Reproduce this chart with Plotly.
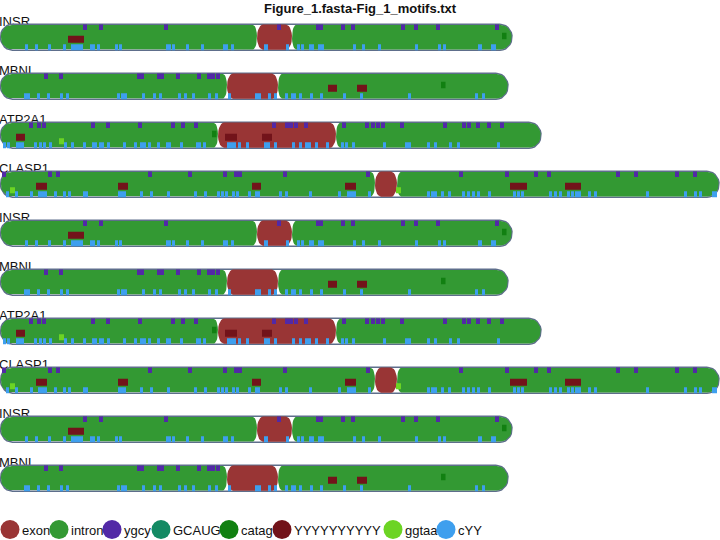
import plotly.graph_objects as go
import numpy as np

# ---------------- data (positions along each sequence) ----------------
TITLE = "Figure_1.fasta-Fig_1_motifs.txt"
ROW_GENES = ["INSR", "MBNL", "ATP2A1", "CLASP1", "INSR", "MBNL",
             "ATP2A1", "CLASP1", "INSR", "MBNL"]

MOTIF_NAMES = ["exon", "intron", "ygcy", "GCAUG", "catag", "YYYYYYYYYY", "ggtaa", "cYY"]
MOTIF_COLORS = ["#993535", "#339933", "#5229a6", "#138a63", "#118011",
                "#72131a", "#6cd424", "#3e9fee"]

INSR_LENGTH = 512
INSR_EXONS = [(257, 292)]
INSR_YGCY = [83, 99, 164, 277, 316, 319, 341, 351, 401, 414, 436, 495]
INSR_CYY = [25, 35, 48, 63, 71, 74, 77, 80, 90, 92, 97, 115, 119, 166, 168, 172,
            186, 201, 223, 225, 231, 264, 265, 286, 297, 301, 309, 311, 318, 321,
            353, 362, 378, 415, 438, 443, 478, 479, 491, 493]
INSR_POLYY = [(68, 84)]
INSR_CATAG = [502]
INSR_GGTAA = []

MBNL_LENGTH = 508
MBNL_EXONS = [(227, 278)]
MBNL_YGCY = [44, 59, 137, 140, 157, 160, 176, 197, 207, 211, 216]
MBNL_CYY = [24, 27, 37, 47, 60, 66, 117, 121, 124, 142, 153, 159, 178, 184,
            192, 208, 215, 228, 255, 258, 268, 274, 285, 291, 293, 299, 310,
            320, 343, 360, 408, 475, 482]
MBNL_POLYY = [(328, 337), (357, 367)]
MBNL_CATAG = [441]
MBNL_GGTAA = []

ATP2A1_LENGTH = 541
ATP2A1_EXONS = [(218, 336)]
ATP2A1_YGCY = [29, 37, 42, 91, 106, 138, 171, 181, 194, 272, 285, 289, 294, 304,
               342, 365, 371, 376, 381, 400, 443, 462, 467, 476, 487, 500]
ATP2A1_CYY = [3, 7, 16, 18, 21, 34, 39, 43, 49, 64, 71, 83, 92, 94, 99, 101, 107,
              123, 134, 140, 143, 148, 157, 166, 168, 180, 196, 198, 203, 227,
              230, 233, 238, 246, 264, 267, 274, 292, 299, 305, 308, 315, 326,
              341, 345, 352, 383, 405, 408, 427, 434, 449, 457, 497]
ATP2A1_POLYY = [(16, 25), (225, 237), (262, 272)]
ATP2A1_CATAG = [212]
ATP2A1_GGTAA = [59]

CLASP1_LENGTH = 719
CLASP1_EXONS = [(375, 397)]
CLASP1_YGCY = [2, 48, 56, 148, 188, 223, 234, 238, 283, 366, 459, 505, 534,
               547, 616, 634, 675, 693]
CLASP1_CYY = [6, 15, 30, 38, 41, 44, 54, 63, 68, 83, 85, 118, 121, 123, 140,
              150, 167, 194, 204, 217, 221, 225, 232, 236, 248, 255, 257, 279,
              285, 309, 338, 347, 350, 353, 368, 427, 431, 434, 441, 448, 462,
              467, 472, 477, 488, 513, 517, 521, 549, 554, 559, 567, 571, 575,
              578, 588, 594, 646, 684, 694, 699, 712, 714]
CLASP1_POLYY = [(36, 47), (118, 128), (252, 261), (345, 356), (510, 527), (565, 581)]
CLASP1_CATAG = []
CLASP1_GGTAA = [10, 396]

GENES = {
    "INSR": (INSR_LENGTH, INSR_EXONS, INSR_YGCY, INSR_CYY, INSR_POLYY, INSR_CATAG, INSR_GGTAA),
    "MBNL": (MBNL_LENGTH, MBNL_EXONS, MBNL_YGCY, MBNL_CYY, MBNL_POLYY, MBNL_CATAG, MBNL_GGTAA),
    "ATP2A1": (ATP2A1_LENGTH, ATP2A1_EXONS, ATP2A1_YGCY, ATP2A1_CYY, ATP2A1_POLYY, ATP2A1_CATAG, ATP2A1_GGTAA),
    "CLASP1": (CLASP1_LENGTH, CLASP1_EXONS, CLASP1_YGCY, CLASP1_CYY, CLASP1_POLYY, CLASP1_CATAG, CLASP1_GGTAA),
}

# ---------------- layout constants (pixels) ----------------
W, H = 720, 540
ROW_PX = 49.0          # vertical distance between rows
ROW0_PX = 37.2         # pixel of first row centre
LEGEND_PX = 529.5
COL = dict(zip(MOTIF_NAMES, MOTIF_COLORS))
END_RX = 11.0          # rounding of the outer gene ends
JOIN_RX = 4.0          # rounding at intron/exon junctions


def py(px):
    """pixel height -> y-axis units (one unit = one row)."""
    return px / ROW_PX


def rrect(x0, x1, yc, h, rxl, rxr, n=14):
    """box with half-elliptical ends (horizontal radii rxl / rxr, full vertical)."""
    hy = h / 2.0
    w = x1 - x0
    rxl = min(rxl, w / 2.0)
    rxr = min(rxr, w / 2.0)
    xs, ys = [], []
    for a in np.linspace(-90, 90, n):       # right end, top -> bottom
        t = np.radians(a)
        xs.append(x1 - rxr + rxr * np.cos(t))
        ys.append(yc + py(hy * np.sin(t)))
    for a in np.linspace(90, 270, n):       # left end, bottom -> top
        t = np.radians(a)
        xs.append(x0 + rxl + rxl * np.cos(t))
        ys.append(yc + py(hy * np.sin(t)))
    xs.append(xs[0]); ys.append(ys[0])
    return xs, ys


def rect(x0, x1, yc, top_px, bot_px):
    return ([x0, x1, x1, x0, x0],
            [yc + py(top_px), yc + py(top_px), yc + py(bot_px), yc + py(bot_px), yc + py(top_px)])


def collect(parts):
    xs, ys = [], []
    for px_, py_ in parts:
        xs += list(px_) + [None]
        ys += list(py_) + [None]
    return xs, ys


track, introns, exons = [], [], []
ygcy, cyy, polyy, catag, ggtaa = [], [], [], [], []
for row, g in enumerate(ROW_GENES):
    L, EX, YG, CY, PY, CA, GG = GENES[g]
    yc = row
    track.append(rrect(0.5, L, yc, 26, END_RX + 1, END_RX + 1))
    bounds = [0.8] + [v for e in EX for v in e] + [L - 0.3]
    for i in range(0, len(bounds), 2):
        a, b = bounds[i], bounds[i + 1]
        rl = END_RX if i == 0 else JOIN_RX
        rr = END_RX if i + 2 >= len(bounds) else JOIN_RX
        introns.append(rrect(a, b, yc, 24.5, rl, rr))
    for s, e in EX:
        exons.append(rrect(s, e, yc, 25.2, JOIN_RX + 2, JOIN_RX + 2))
    for s in YG:
        ygcy.append(rect(s, s + 4, yc, -12.7, -7.2))
    for s in CY:
        cyy.append(rect(s, s + 3, yc, 7.0, 13.0))
    for s, e in PY:
        polyy.append(rect(s, e, yc, -1.5, 5.5))
    for s in CA:
        catag.append(rect(s, s + 4.5, yc, -4.5, 2.0))
    for s in GG:
        ggtaa.append(rect(s, s + 5, yc, 3.0, 9.0))

fig = go.Figure()

# row labels (drawn first so that the tracks sit on top of them)
fig.add_trace(go.Scatter(
    x=[-1] * len(ROW_GENES), y=[r + py(-8) for r in range(len(ROW_GENES))],
    text=ROW_GENES, mode="text", textposition="top right",
    textfont=dict(family="Liberation Sans, Arial", size=13, color="#111"),
    hoverinfo="skip", showlegend=False))


def add_poly(parts, fill, line_color=None, line_width=0):
    xs, ys = collect(parts)
    fig.add_trace(go.Scatter(
        x=xs, y=ys, mode="lines", fill="toself", fillcolor=fill,
        line=dict(color=line_color or fill, width=line_width),
        hoverinfo="skip", showlegend=False))


add_poly(track, "white", "#5e6e8b", 1.6)
add_poly(introns, COL["intron"])
add_poly(exons, COL["exon"])
add_poly(ygcy, COL["ygcy"])
add_poly(cyy, COL["cYY"])
add_poly(polyy, COL["YYYYYYYYYY"])
add_poly(catag, COL["catag"])
add_poly(ggtaa, COL["ggtaa"])

# legend drawn as markers + labels
LEG_X = [10, 59, 112, 161, 229, 282, 393, 446]
ly = (LEGEND_PX - ROW0_PX) / ROW_PX
fig.add_trace(go.Scatter(
    x=LEG_X, y=[ly] * len(LEG_X), mode="markers",
    marker=dict(size=19, color=MOTIF_COLORS, line=dict(width=0)),
    hoverinfo="skip", showlegend=False))
annotations = []
for x, name in zip(LEG_X, MOTIF_NAMES):
    annotations.append(dict(
        x=x + 10.5, y=ly + py(10), xref="x", yref="y", text=name, showarrow=False,
        xanchor="left", yanchor="bottom", xshift=-1,
        font=dict(family="Liberation Sans, Arial", size=13, color="#111")))
annotations.append(dict(
    x=0.5, y=1, xref="paper", yref="paper", text="<b>" + TITLE + "</b>",
    showarrow=False, xanchor="center", yanchor="top", yshift=1,
    font=dict(family="Liberation Sans, Arial", size=13, color="#111")))

fig.update_layout(
    width=W, height=H, margin=dict(l=0, r=0, t=0, b=0),
    paper_bgcolor="white", plot_bgcolor="white",
    xaxis=dict(range=[0, W], visible=False, fixedrange=True),
    yaxis=dict(range=[(H - ROW0_PX) / ROW_PX, -ROW0_PX / ROW_PX],
               visible=False, fixedrange=True),
    annotations=annotations, showlegend=False)

fig.write_html("out.html")
